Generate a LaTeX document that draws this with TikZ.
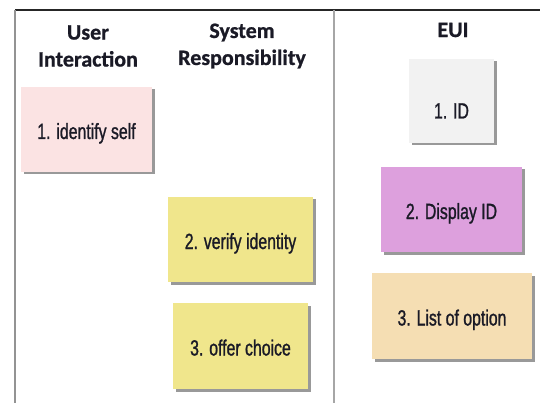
\documentclass[tikz,border=0pt]{standalone}
\usepackage{fontspec}
\newfontfamily\headfont{Carlito}[BoldFeatures={FakeBold=0.8}]
\newfontfamily\cardfont{Liberation Sans}[FakeStretch=0.72, FakeBold=1.1]
\usepackage{tikz}
\usetikzlibrary{
  shadows,
}
\definecolor{cardpink}{HTML}{FBE3E3}
\definecolor{cardkhaki}{HTML}{F0E68C}
\definecolor{cardgray}{HTML}{F2F2F2}
\definecolor{cardplum}{HTML}{DDA0DD}
\definecolor{cardwheat}{HTML}{F5DEB3}
\definecolor{inkdark}{HTML}{1A1A26}

\begin{document}
\begin{tikzpicture}[
  x=1pt, y=-1pt,
  lanehead/.style={
    font=\headfont\bfseries\fontsize{22}{27}\selectfont,
    text=inkdark, align=center,
  },
  card/.style={
    inner sep=0pt, font=\cardfont\fontsize{22}{24}\selectfont,
    text=inkdark, text height=19pt, text depth=0pt,
    drop shadow={shadow xshift=2.5pt, shadow yshift=-2.5pt,
      fill=gray!80, opacity=1},
  },
]
  \useasboundingbox[fill=white] (0,0) rectangle (540,403);

  % Frame and lane divider
  \draw[line width=2.5pt, color=black!85] (15,10) -- (540,10);
  \draw[line width=2pt, color=gray!85] (15,10) -- (15,403);
  \draw[line width=1.6pt, color=gray!70] (334,10) -- (334,403);

  % Lane headings
  \node[lanehead] (userhd) at (88,46) {User\\Interaction};
  \node[lanehead] (syshd)  at (242,46) {System\\Responsibility};
  \node[lanehead] (euihd)  at (453,30) {EUI};

  % Use case steps
  \node[card, fill=cardpink, minimum width=131pt, minimum height=85pt]
    (identify) at (86.5,129.5) {1. identify self};
  \node[card, fill=cardkhaki, minimum width=145pt, minimum height=85pt]
    (verify) at (240.5,239.5) {2. verify identity};
  \node[card, fill=cardkhaki, minimum width=135pt, minimum height=86pt]
    (offer) at (240.5,346) {3. offer choice};

  % Interface elements
  \node[card, fill=cardgray, minimum width=85pt, minimum height=84pt,
    text height=35pt] (uiid) at (451.5,101) {1. ID};
  \node[card, fill=cardplum, minimum width=141pt, minimum height=85pt]
    (uidisplay) at (451.5,209.5) {2. Display ID};
  \node[card, fill=cardwheat, minimum width=160pt, minimum height=86pt]
    (uilist) at (452,316) {3. List of option};
\end{tikzpicture}
\end{document}
